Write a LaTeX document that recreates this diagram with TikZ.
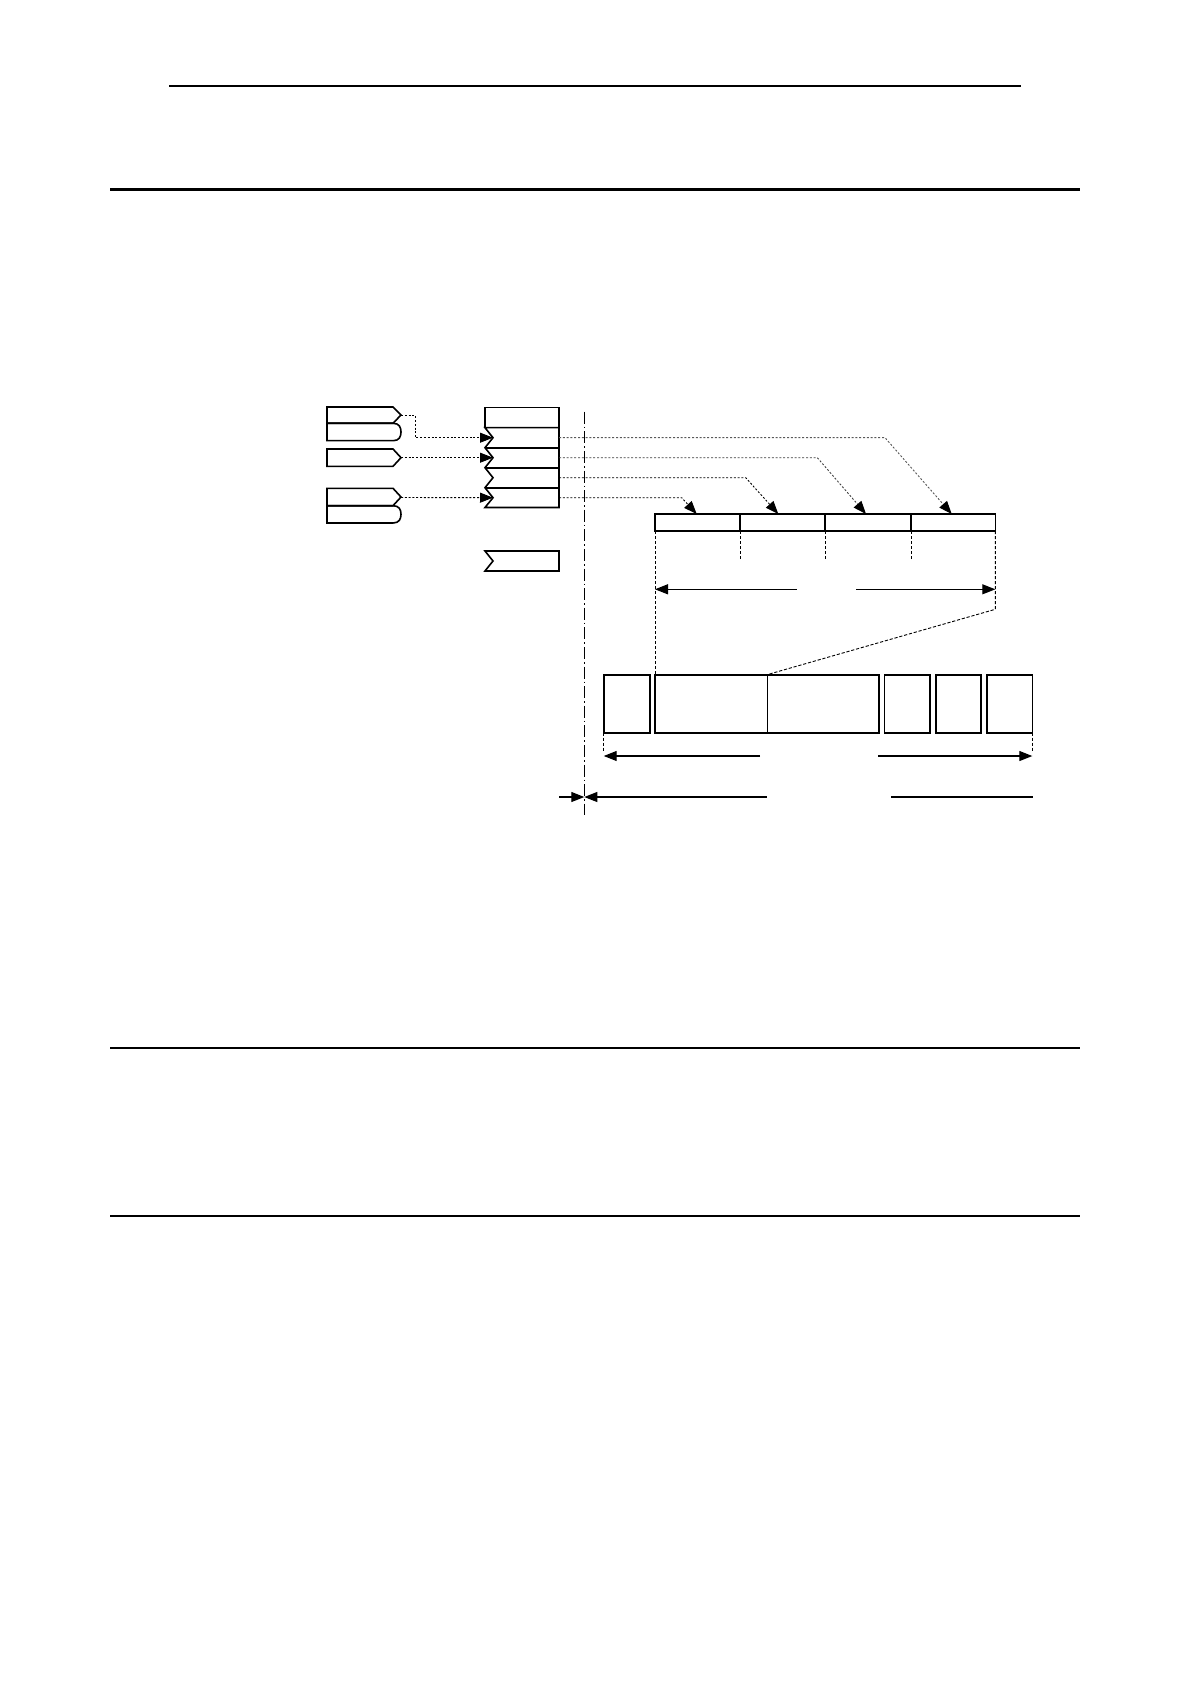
\documentclass[tikz,border=0pt]{standalone}
\usetikzlibrary{arrows.meta}
\begin{document}
\begin{tikzpicture}[x=0.5pt,y=-0.5pt,
  rule/.style={line width=1.1pt},
  thinrule/.style={line width=0.55pt},
  shapeline/.style={line width=0.8pt,line join=miter},
  thinline/.style={line width=0.45pt},
  dotline/.style={line width=0.45pt,dash pattern=on 1pt off 0.9pt},
  dashline/.style={line width=0.45pt,dash pattern=on 1.6pt off 0.9pt},
  centerline/.style={line width=0.45pt,dash pattern=on 6pt off 1.5pt on 0.8pt off 1.5pt},
  tip/.style={-{Triangle[length=6.5pt,width=5pt,black]}},
  dimline/.style={line width=0.6pt},
]
\fill[white] (0,0) rectangle (1190,1684);
\useasboundingbox (0,0) rectangle (1190,1684);

% page rules
\coordinate (hl1) at (169,86);    \coordinate (hr1) at (1021,86);
\coordinate (hl2) at (110,189.5); \coordinate (hr2) at (1080,189.5);
\coordinate (hl3) at (110,1048);  \coordinate (hr3) at (1080,1048);
\coordinate (hl4) at (110,1216);  \coordinate (hr4) at (1080,1216);
\draw[thinrule] (hl1) -- (hr1);
\draw[rule] (hl2) -- (hr2);
\draw[rule] (hl3) -- (hr3);
\draw[rule] (hl4) -- (hr4);

% left source shapes
\draw[shapeline] (327,407) -- (393,407) -- (401,415) -- (393,423.3) -- (327,423.3) -- cycle;
\draw[shapeline] (327,423.3) -- (393,423.3) .. controls (399,423.3) and (401,427) .. (401,432)
   .. controls (401,437) and (399,440.7) .. (393,440.7) -- (327,440.7) -- cycle;
\draw[shapeline] (327,449) -- (393,449) -- (401,457.7) -- (393,466.3) -- (327,466.3) -- cycle;
\draw[shapeline] (327,488.3) -- (393,488.3) -- (401,497) -- (393,505.7) -- (327,505.7) -- cycle;
\draw[shapeline] (327,505.7) -- (393,505.7) .. controls (399,505.7) and (401,509.5) .. (401,514.3)
   .. controls (401,519.2) and (399,523) .. (393,523) -- (327,523) -- cycle;
\coordinate (sa) at (401,415);
\coordinate (sb) at (401,457.7);
\coordinate (sc) at (401,497.5);

% register stack
\draw[shapeline] (485,407.7) rectangle (559,427.7);
\draw[shapeline] (485,427.7) -- (559,427.7) -- (559,507.5) -- (485,507.5)
  -- (493,497.7) -- (485,487.7) -- (493,477.7) -- (485,467.7)
  -- (493,457.7) -- (485,447.7) -- (493,437.7) -- cycle;
\draw[shapeline] (485,447.7) -- (559,447.7);
\draw[shapeline] (485,467.7) -- (559,467.7);
\draw[shapeline] (485,487.7) -- (559,487.7);
\coordinate (r2l) at (493,437.7); \coordinate (r2r) at (559,437.7);
\coordinate (r3l) at (493,457.7); \coordinate (r3r) at (559,457.7);
\coordinate (r4r) at (559,477.7);
\coordinate (r5l) at (493,497.7); \coordinate (r5r) at (559,497.7);

% standalone notched box
\draw[shapeline] (485,551) -- (559,551) -- (559,571) -- (485,571) -- (493,561) -- cycle;

% centre line
\coordinate (ct) at (584.3,411.7); \coordinate (cb) at (584.3,815);
\draw[centerline] (ct) -- (cb);

% left connectors
\draw[dotline,tip] (sa) -- (415,415) -- (415,437.7) -- (r2l);
\draw[dotline,tip] (sb) -- (r3l);
\draw[dotline,tip] (sc) -- (r5l);

% 4-cell bar
\draw[shapeline] (655,514) rectangle (995.3,531);
\draw[shapeline] (740,514) -- (740,531);
\draw[shapeline] (825,514) -- (825,531);
\draw[shapeline] (911,514) -- (911,531);
\coordinate (b1) at (696.7,514);
\coordinate (b2) at (778.3,514);
\coordinate (b3) at (866,514);
\coordinate (b4) at (951.7,514);

% right connectors
\draw[dotline,black!65,tip] (r2r) -- (885,437.7) -- (b4);
\draw[dotline,black!75,tip] (r3r) -- (817.3,457.7) -- (b3);
\draw[dotline,tip] (r4r) -- (745.7,477.7) -- (b2);
\draw[dotline,tip] (r5r) -- (681.7,497.7) -- (b1);

% dashed ticks under bar
\draw[dashline] (740,531) -- (740,560);
\draw[dashline] (825,531) -- (825,560);
\draw[dashline] (911,531) -- (911,560);
\draw[dashline] (655,531) -- (655,675);
\draw[dashline] (995.3,531) -- (995.3,609.3) -- (766,675);

% dimension arrow 1
\coordinate (d1l) at (655,589.3); \coordinate (d1a) at (796.7,589.3);
\coordinate (d1b) at (856,589.3); \coordinate (d1r) at (995.3,589.3);
\draw[dimline,tip] (d1a) -- (d1l);
\draw[dimline,tip] (d1b) -- (d1r);

% bottom boxes
\draw[shapeline] (603.7,675) rectangle (650,732.7);
\draw[shapeline] (655,675) rectangle (879,732.7);
\draw[thinline] (767.3,675) -- (767.3,732.7);
\draw[shapeline] (884.3,675) rectangle (930,732.7);
\draw[shapeline] (935.7,675) rectangle (981,732.7);
\draw[shapeline] (986.7,675) rectangle (1032.3,732.7);

% ticks and dimension arrow 2
\draw[dashline] (603.7,732.7) -- (603.7,752);
\draw[dashline] (1032.3,732.7) -- (1032.3,752);
\coordinate (d2l) at (603.7,756); \coordinate (d2a) at (760,756);
\coordinate (d2b) at (878.3,756); \coordinate (d2r) at (1032.3,756);
\draw[dimline,tip] (d2a) -- (d2l);
\draw[dimline,tip] (d2b) -- (d2r);

% bottom dimension line
\coordinate (d3s) at (559,797); \coordinate (d3c) at (584.3,797);
\coordinate (d3a) at (766.7,797); \coordinate (d3b) at (891,797);
\coordinate (d3r) at (1032.7,797);
\draw[dimline,tip] (d3s) -- (d3c);
\draw[dimline,tip] (d3a) -- (d3c);
\draw[dimline] (d3b) -- (d3r);
\end{tikzpicture}
\end{document}
